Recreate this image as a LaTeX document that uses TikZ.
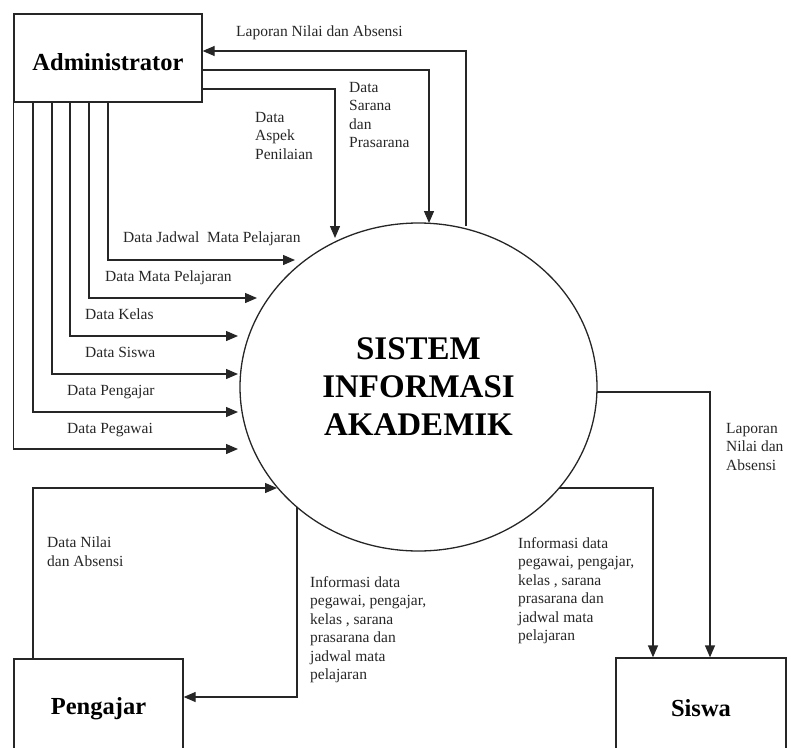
\documentclass[tikz,border=0pt]{standalone}
\usepackage{fontspec}
\setmainfont{Liberation Serif}
\usetikzlibrary{arrows.meta,shapes.geometric}
\begin{document}
\begin{tikzpicture}[x=1pt,y=-1pt,
  flow/.style={draw=black!85, line width=1.3pt, -{Triangle[length=12pt,width=10pt]}},
  lbl/.style={font=\fontsize{15.5}{18.5}\selectfont, align=left, anchor=north west, inner sep=0pt, text=black!85},
  ent/.style={draw=black!85, line width=1.3pt, rectangle, inner sep=0pt, font=\fontsize{24.5}{28}\selectfont\bfseries},
  ]
\useasboundingbox (0,0) rectangle (792,747);
\clip (0,0) rectangle (792,747);

% entities and process
\node[ent, minimum width=188pt, minimum height=88pt, text height=24pt, text depth=0pt] (admin) at (108,58) {Administrator};
\node[ent, minimum width=169pt, minimum height=100pt] (peng) at (98.5,709) {Pengajar};
\node[ent, minimum width=170pt, minimum height=100pt] (siswa) at (701,708) {Siswa};
\node[ellipse, draw=black!85, line width=1.3pt, minimum width=357pt, minimum height=328pt, inner sep=0pt, align=center, font=\fontsize{33}{38}\selectfont\bfseries] (sia) at (418.5,387) {SISTEM\\INFORMASI\\AKADEMIK};

% connector end points
\coordinate (e1) at (466,226);
\coordinate (e2) at (429,223);
\coordinate (e3) at (335,238);
\coordinate (t4) at (295,260);
\coordinate (t5) at (257,298);
\coordinate (t6) at (238,336);
\coordinate (t7) at (238,374);
\coordinate (t8) at (238,412);
\coordinate (t9) at (238,449);
\coordinate (e10) at (277,488);
\coordinate (e11) at (297,507);
\coordinate (e12) at (597,392);
\coordinate (e13) at (559,488);

% connectors
\draw[flow] (e1) |- (admin.east |- 0,51);
\draw[flow] (admin.east |- 0,70) -| (e2);
\draw[flow] (admin.east |- 0,89) -| (e3);
\draw[flow] (admin.south -| 108,0) |- (t4);
\draw[flow] (admin.south -| 89,0) |- (t5);
\draw[flow] (admin.south -| 70,0) |- (t6);
\draw[flow] (admin.south -| 52,0) |- (t7);
\draw[flow] (admin.south -| 33,0) |- (t8);
\draw[flow] (admin.south west) |- (t9);
\draw[flow] (peng.north -| 33,0) |- (e10);
\draw[flow] (e11) |- (peng.east |- 0,697);
\draw[flow] (e12) -| (siswa.north -| 710,0);
\draw[flow] (e13) -| (siswa.north -| 653,0);

% labels
\node[lbl] (l1) at (236,25.5) {Laporan Nilai dan Absensi};
\node[lbl] (l2) at (255,112) {Data\\Aspek\\Penilaian};
\node[lbl] (l3) at (349,82) {Data\\Sarana\\dan\\Prasarana};
\node[lbl] (l4) at (123,232) {Data Jadwal\ \ Mata Pelajaran};
\node[lbl] (l5) at (105,271) {Data Mata Pelajaran};
\node[lbl] (l6) at (85,309) {Data Kelas};
\node[lbl] (l7) at (85,347) {Data Siswa};
\node[lbl] (l8) at (67,385) {Data Pengajar};
\node[lbl] (l9) at (67,423) {Data Pegawai};
\node[lbl] (l10) at (47,537) {Data Nilai\\dan Absensi};
\node[lbl] (l11) at (310,576) {Informasi data\\pegawai, pengajar,\\kelas , sarana\\prasarana dan\\jadwal mata\\pelajaran};
\node[lbl] (l12) at (518,537) {Informasi data\\pegawai, pengajar,\\kelas , sarana\\prasarana dan\\jadwal mata\\pelajaran};
\node[lbl] (l13) at (726,423) {Laporan\\Nilai dan\\Absensi};
\end{tikzpicture}
\end{document}
